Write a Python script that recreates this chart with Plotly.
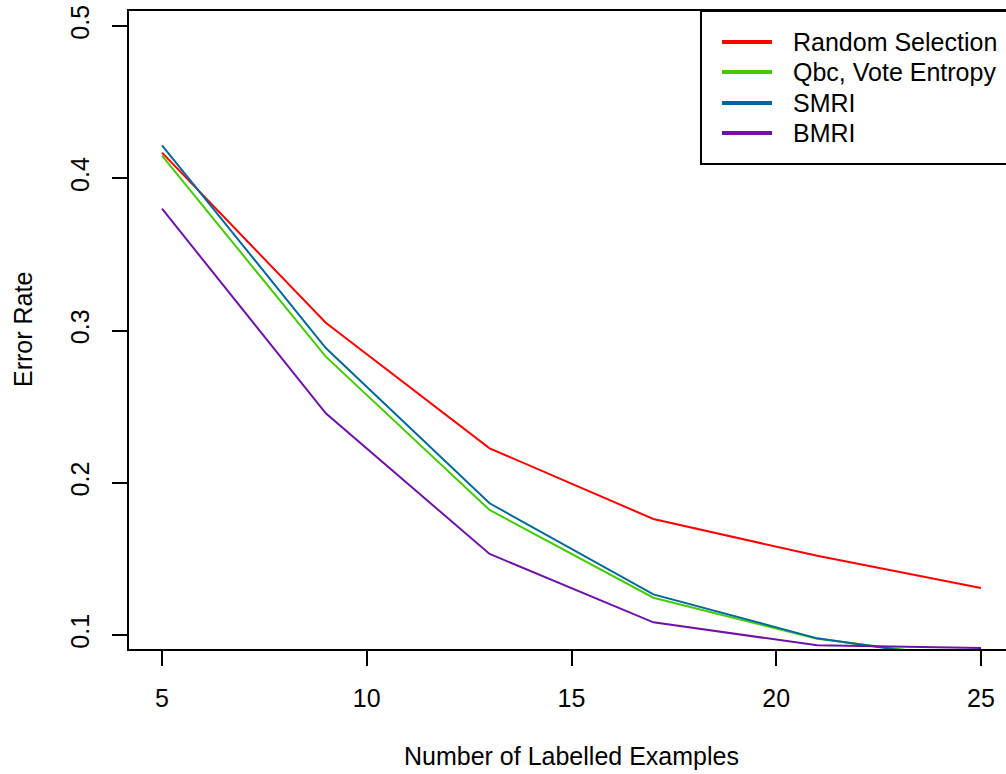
import plotly.graph_objects as go

# Learning curves: error rate vs number of labelled examples
n_labelled = [5, 9, 13, 17, 21, 25]
series_names = ["Random Selection", "Qbc, Vote Entropy", "SMRI", "BMRI"]
random_sel = [0.4168, 0.3051, 0.2226, 0.1762, 0.1520, 0.1309]
qbc_vote = [0.4148, 0.2828, 0.1821, 0.1245, 0.0975, 0.0840]
smri = [0.4216, 0.2885, 0.1865, 0.1267, 0.0978, 0.0825]
bmri = [0.3800, 0.2456, 0.1532, 0.1083, 0.0932, 0.0915]
series_values = [random_sel, qbc_vote, smri, bmri]
colors = ["#FF0000", "#44CC00", "#00689B", "#7012A8"]

x_ticks = [5, 10, 15, 20, 25]
y_ticks = [0.1, 0.2, 0.3, 0.4, 0.5]
y_ticklabels = ["0.1", "0.2", "0.3", "0.4", "0.5"]

W, H = 1006, 774
M_L, M_R, M_T, M_B = 129, 0, 11, 125
FONT = "Liberation Sans, Arial, Helvetica, sans-serif"
FS = 25

# axis ranges (px per unit chosen so that 5..25 spans 819 px, 0.1..0.5 spans 609 px)
x_scale = 819 / 20.0
x0 = 5 - (162 - M_L) / x_scale
x1 = x0 + (W - M_L - M_R) / x_scale
y_scale = 609 / 0.4
y1 = 0.5 + (26 - M_T) / y_scale
y0 = y1 - (H - M_T - M_B) / y_scale

plot_w = W - M_L - M_R
plot_h = H - M_T - M_B


def px_x(px):
    return (px - M_L) / plot_w


def px_y(py):
    return (H - M_B - py) / plot_h


fig = go.Figure()
for name, vals, col in zip(series_names, series_values, colors):
    fig.add_trace(go.Scatter(
        x=n_labelled, y=vals, mode="lines", name=name,
        line=dict(color=col, width=2), showlegend=False,
    ))

# legend box in the top-right corner
shapes = [dict(
    type="rect", xref="paper", yref="paper",
    x0=px_x(701), x1=px_x(1014), y0=px_y(164), y1=px_y(11),
    line=dict(color="black", width=2), fillcolor="white", layer="above",
)]
annotations = []
row_y = [42, 72, 103, 133]
for name, col, ry in zip(series_names, colors, row_y):
    shapes.append(dict(
        type="line", xref="paper", yref="paper",
        x0=px_x(722), x1=px_x(772), y0=px_y(ry), y1=px_y(ry),
        line=dict(color=col, width=4), layer="above",
    ))
    annotations.append(dict(
        xref="paper", yref="paper", x=px_x(791), y=px_y(ry),
        xanchor="left", yanchor="middle", text=name, showarrow=False,
        font=dict(family=FONT, size=FS, color="black"),
    ))

# axis titles
annotations.append(dict(
    xref="x", yref="paper", x=15, y=0, yshift=-107,
    xanchor="center", yanchor="middle", text="Number of Labelled Examples",
    showarrow=False, font=dict(family=FONT, size=FS, color="black"),
))
annotations.append(dict(
    xref="paper", yref="paper", x=0, y=0.5, xshift=-106,
    xanchor="center", yanchor="middle", text="Error Rate", textangle=-90,
    showarrow=False, font=dict(family=FONT, size=FS, color="black"),
))

fig.update_layout(
    width=W, height=H,
    margin=dict(l=M_L, r=M_R, t=M_T, b=M_B, pad=0),
    paper_bgcolor="white", plot_bgcolor="white",
    font=dict(family=FONT, size=FS, color="black"),
    shapes=shapes, annotations=annotations,
    xaxis=dict(
        range=[x0, x1], tickvals=x_ticks, ticktext=[str(v) for v in x_ticks],
        showgrid=False, zeroline=False, showline=True, mirror=True,
        linecolor="black", linewidth=2, ticks="outside", ticklen=15,
        tickwidth=2, tickcolor="black", ticklabelstandoff=11,
        tickfont=dict(family=FONT, size=FS, color="black"),
    ),
    yaxis=dict(
        range=[y0, y1], tickvals=y_ticks, ticktext=y_ticklabels,
        showgrid=False, zeroline=False, showline=True, mirror=False,
        linecolor="black", linewidth=2, ticks="outside", ticklen=15,
        tickwidth=2, tickcolor="black", tickangle=-90, ticklabelstandoff=13,
        tickfont=dict(family=FONT, size=FS, color="black"),
    ),
)

fig.write_html("out.html")
